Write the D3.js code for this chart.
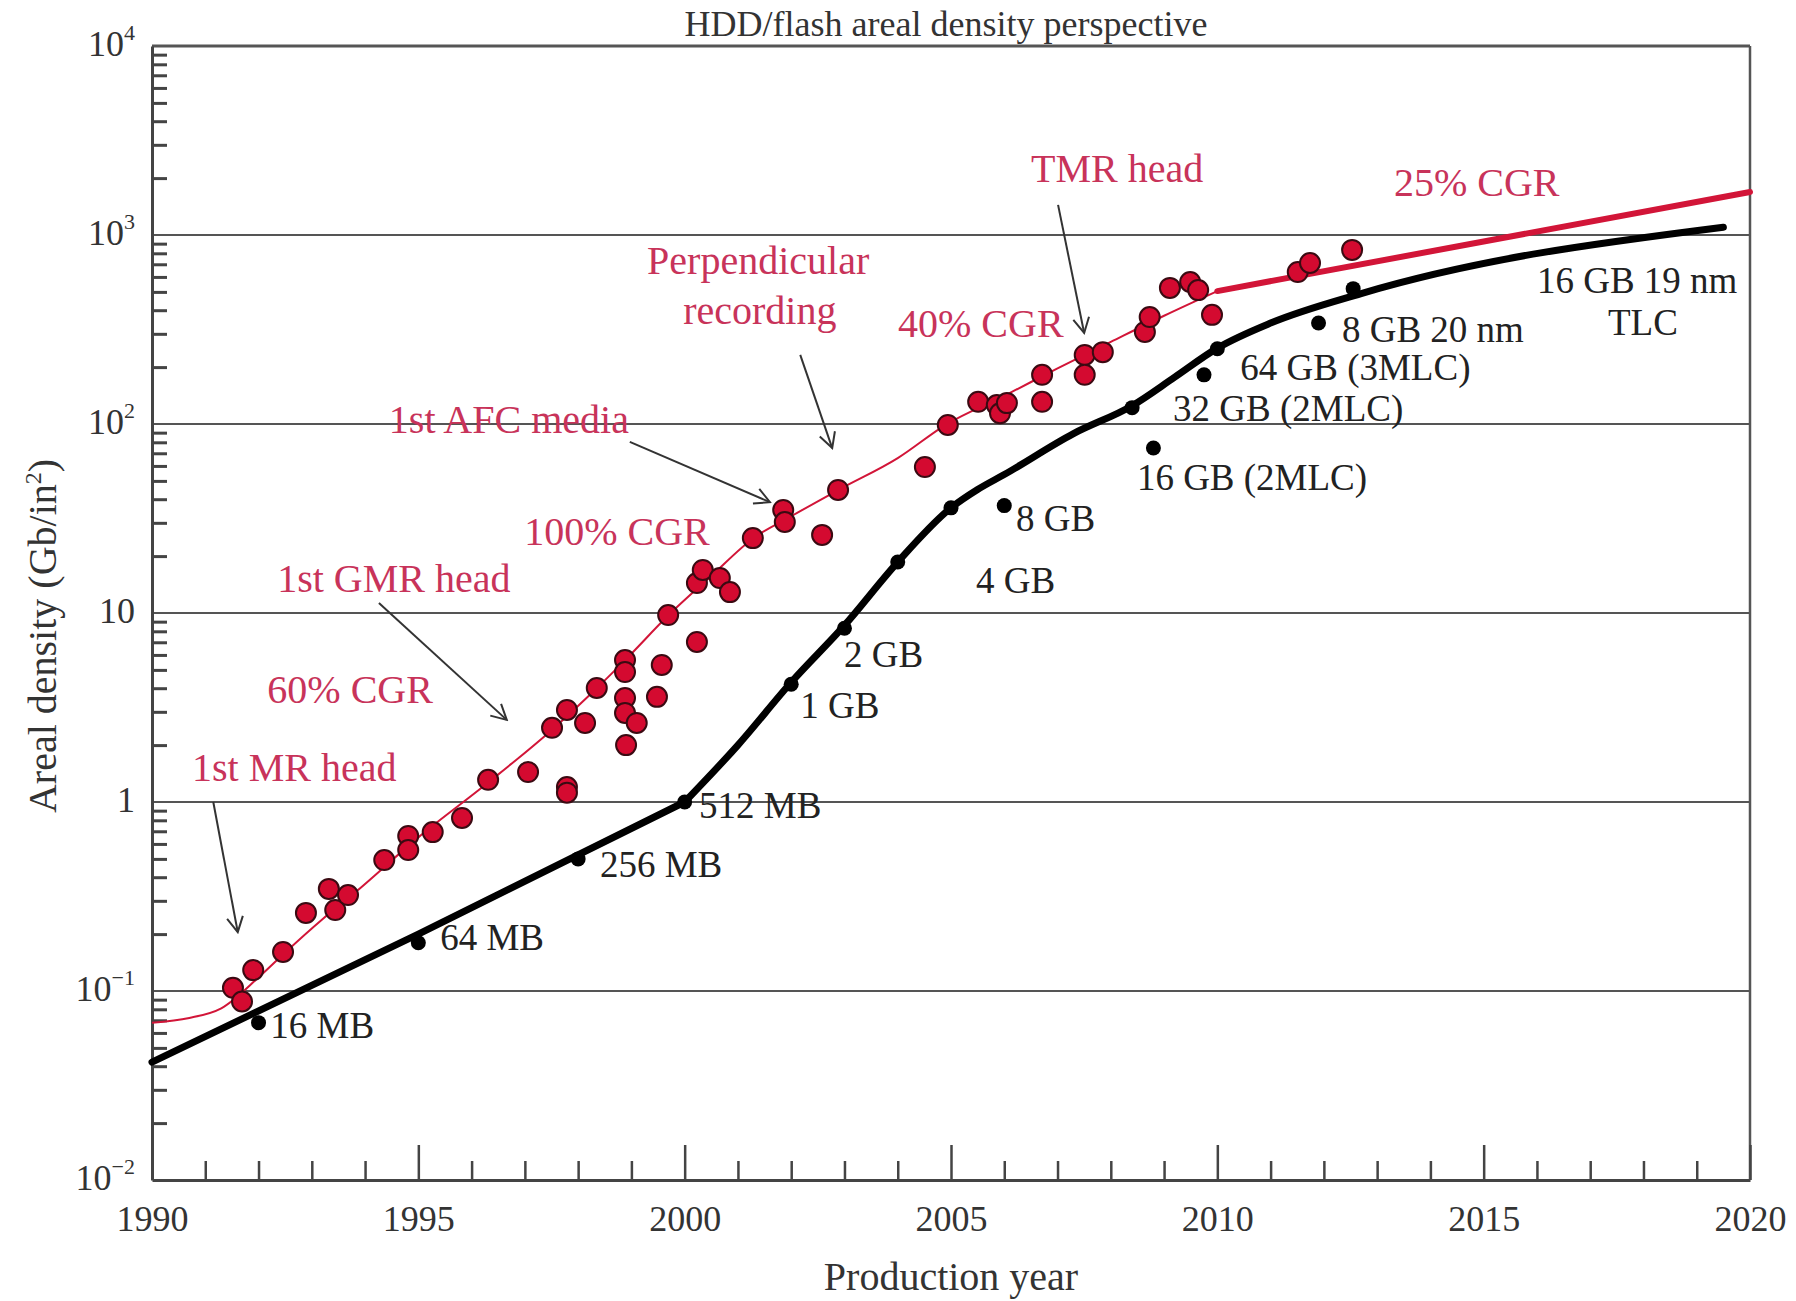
<!DOCTYPE html>
<html>
<head>
<meta charset="utf-8">
<script src="https://cdn.jsdelivr.net/npm/d3@7"></script>
<style>
  body { margin: 0; background: #fff; }
  svg { display: block; font-family: "Liberation Serif", "DejaVu Serif", serif; }
</style>
</head>
<body>
<svg width="1796" height="1301"></svg>
<script>
// year ticks and decade labels
const majorYears = [1990, 1995, 2000, 2005, 2010, 2015, 2020];
const decadeExps = [-2, -1, 0, 1, 2, 3, 4];

// HDD areal density, single products [year, Gb/in2]
const hddPoints = [
  [1991.52, 0.104], [1991.69, 0.088], [1991.90, 0.129], [1992.46, 0.161], [1992.89, 0.259],
  [1993.32, 0.347], [1993.44, 0.268], [1993.68, 0.322], [1994.36, 0.493], [1994.81, 0.661],
  [1994.81, 0.557], [1995.27, 0.693], [1995.82, 0.823], [1996.31, 1.31], [1997.06, 1.44],
  [1997.51, 2.47], [1997.79, 3.07], [1997.79, 1.20], [1997.79, 1.12], [1998.13, 2.62],
  [1998.35, 4.01], [1998.88, 5.64], [1998.88, 4.87], [1998.88, 3.55], [1998.88, 2.96],
  [1999.10, 2.62], [1998.90, 2.00], [1999.57, 5.31], [1999.48, 3.60], [1999.69, 9.75],
  [2000.23, 7.03], [2000.23, 14.4], [2000.34, 16.9], [2000.66, 15.3], [2000.85, 12.9],
  [2001.28, 24.9], [2001.85, 35.1], [2001.88, 30.3], [2002.58, 25.9], [2002.88, 44.8],
  [2004.51, 59.2], [2004.94, 98.9], [2005.51, 131], [2005.86, 126], [2005.92, 114],
  [2006.05, 129], [2006.71, 182], [2006.71, 131], [2007.51, 232], [2007.85, 240],
  [2007.51, 182], [2008.64, 307], [2008.73, 368], [2009.11, 525], [2009.49, 564],
  [2009.64, 511], [2009.90, 378], [2011.51, 637], [2011.74, 711], [2012.53, 834]
];

// HDD trend (thin) and the 25% CGR extension (thick)
const hddTrend = [
  [1990, 0.068], [1990.7, 0.072], [1991.3, 0.081], [1992, 0.118], [1992.5, 0.16],
  [1993.2, 0.24], [1993.8, 0.33], [1995, 0.65], [1996.3, 1.26], [1997.5, 2.4],
  [1998.35, 4.0], [1998.9, 5.7], [1999.7, 9.75], [2000.5, 15.7], [2001.3, 25],
  [2002, 32.5], [2002.9, 45], [2004, 66], [2004.9, 99], [2006, 141], [2007, 197],
  [2008, 272], [2009, 374], [2010, 505]
];
const hddTrend25 = [[2010, 505], [2020, 1690]];

// flash trend and products
const flashTrend = [
  [1990, 0.042], [1995, 0.2], [2000, 1.0], [2001, 2.0], [2002, 4.3], [2003, 8.6],
  [2004, 18.6], [2005, 36], [2005.5, 45], [2006, 54], [2007.3, 89], [2008.4, 125],
  [2009.2, 177], [2010, 252], [2011, 342], [2012.7, 490], [2019.5, 1100]
];
const flashPoints = [
  [1992, 0.068], [1995, 0.18], [1998, 0.5], [2000, 1.0], [2002, 4.2], [2003, 8.3],
  [2004, 18.6], [2005, 36], [2006, 37], [2008.8, 74.6], [2008.4, 122], [2009.75, 182],
  [2010, 250], [2011.9, 342], [2012.55, 520]
];

// text anchors [label, year, value]
const flashLabels = [
  ["16 MB", 1992.22, 0.0564], ["64 MB", 1995.41, 0.165], ["256 MB", 1998.41, 0.401],
  ["512 MB", 2000.27, 0.822], ["1 GB", 2002.17, 2.78], ["2 GB", 2002.99, 5.18],
  ["4 GB", 2005.47, 12.8], ["8 GB", 2006.22, 27.2], ["16 GB (2MLC)", 2008.49, 44.8],
  ["32 GB (2MLC)", 2009.17, 104], ["64 GB (3MLC)", 2010.43, 171], ["8 GB 20 nm", 2012.34, 272],
  ["16 GB 19 nm", 2016.0, 493]
];
const flashCentered = [["TLC", 2017.99, 296]];
const hddNotes = [
  ["TMR head", 2008.12, 1905], ["25% CGR", 2014.87, 1607], ["Perpendicular", 2001.38, 622],
  ["recording", 2001.41, 338], ["40% CGR", 2005.56, 288], ["1st AFC media", 1996.70, 89.5],
  ["100% CGR", 1998.73, 22.9], ["1st GMR head", 1994.54, 12.9], ["60% CGR", 1993.72, 3.34],
  ["1st MR head", 1992.67, 1.29]
];
// arrows [yearFrom, valueFrom, yearTo, valueTo]
const arrows = [
  [1991.15, 1.0, 1991.61, 0.205], [1994.26, 11.3, 1996.66, 2.72],
  [1998.97, 80.4, 2001.60, 38.6], [2002.17, 232, 2002.77, 74.6],
  [2007.01, 1443, 2007.50, 303]
];

const svg = d3.select("svg");
const red = "#d21538", redText = "#c8335a";

const x = d3.scaleLinear().domain([1990, 2020]).range([152, 1750]);
const y = d3.scaleLog().domain([1e-2, 1e4]).range([1180, 46]);

// decade gridlines
svg.append("g")
  .selectAll("line")
  .data(decadeExps.slice(1))
  .join("line")
  .attr("x1", x(1990)).attr("x2", x(2020))
  .attr("y1", d => y(Math.pow(10, d))).attr("y2", d => y(Math.pow(10, d)))
  .attr("stroke", "#555")
  .attr("stroke-width", d => d === 4 ? 3 : 2);

// right border
svg.append("line")
  .attr("x1", x(2020)).attr("x2", x(2020))
  .attr("y1", y(1e4)).attr("y2", y(1e-2))
  .attr("stroke", "#555").attr("stroke-width", 2.5);

// minor y ticks
const minorY = [];
decadeExps.slice(0, -1).forEach(e => {
  for (let k = 2; k <= 9; k++) minorY.push(k * Math.pow(10, e));
});
const yAxis = svg.append("g")
  .attr("transform", `translate(${x(1990)},0)`)
  .call(d3.axisLeft(y).tickValues(minorY).tickSize(-15).tickSizeOuter(0).tickFormat(""));
yAxis.select(".domain").attr("stroke", "#444").attr("stroke-width", 3);
yAxis.selectAll(".tick line").attr("stroke", "#444").attr("stroke-width", 3);

// x ticks
const xMinor = svg.append("g")
  .attr("transform", `translate(0,${y(1e-2)})`)
  .call(d3.axisBottom(x).tickValues(d3.range(1991, 2020).filter(d => d % 5)).tickSize(-19).tickFormat(""));
xMinor.select(".domain").remove();
xMinor.selectAll(".tick line").attr("stroke", "#444").attr("stroke-width", 2.5);

const xAxis = svg.append("g")
  .attr("transform", `translate(0,${y(1e-2)})`)
  .call(d3.axisBottom(x).tickValues(majorYears).tickSize(-35).tickSizeOuter(0).tickFormat(d3.format("d")));
xAxis.select(".domain").attr("stroke", "#444").attr("stroke-width", 3);
xAxis.selectAll(".tick line").attr("stroke", "#444").attr("stroke-width", 2.5);
xAxis.selectAll("text")
  .attr("y", 51).attr("dy", null)
  .attr("font-size", 36)
  .attr("font-family", "Liberation Serif, serif")
  .attr("fill", "#333");

// y tick labels with superscripts
const yLab = svg.append("g").selectAll("text")
  .data(decadeExps)
  .join("text")
  .attr("x", 135)
  .attr("y", d => y(Math.pow(10, d)) + 10)
  .attr("text-anchor", "end")
  .attr("font-size", 36)
  .attr("fill", "#333");
yLab.append("tspan").text(d => d === 0 ? "1" : "10");
yLab.filter(d => d < 0 || d > 1)
  .append("tspan")
  .attr("font-size", 22)
  .attr("dy", -16)
  .text(d => d < 0 ? "\u2212" + (-d) : String(d));

// axis titles
svg.append("text")
  .attr("x", 946).attr("y", 36)
  .attr("text-anchor", "middle")
  .attr("font-size", 36).attr("fill", "#333")
  .text("HDD/flash areal density perspective");

svg.append("text")
  .attr("x", 951).attr("y", 1290)
  .attr("text-anchor", "middle")
  .attr("font-size", 40).attr("fill", "#333")
  .text("Production year");

const yTitle = svg.append("text")
  .attr("transform", "translate(56,636) rotate(-90)")
  .attr("text-anchor", "middle")
  .attr("font-size", 40).attr("fill", "#333");
yTitle.append("tspan").text("Areal density (Gb/in");
yTitle.append("tspan").attr("font-size", 24).attr("dy", -15).text("2");
yTitle.append("tspan").attr("dy", 15).text(")");

// lines
const line = d3.line()
  .x(d => x(d[0]))
  .y(d => y(d[1]))
  .curve(d3.curveMonotoneX);

const straight = d3.line()
  .x(d => x(d[0]))
  .y(d => y(d[1]));

svg.append("path")
  .datum(hddTrend)
  .attr("d", line)
  .attr("fill", "none")
  .attr("stroke", red)
  .attr("stroke-width", 2);

svg.append("path")
  .datum(hddTrend25)
  .attr("d", straight)
  .attr("fill", "none")
  .attr("stroke", red)
  .attr("stroke-width", 6)
  .attr("stroke-linecap", "round");

// flash: straight up to 2000, curved after
[[straight, flashTrend.filter(d => d[0] <= 2000)],
 [line, flashTrend.filter(d => d[0] >= 2000)]].forEach(([gen, pts]) => {
  svg.append("path")
    .datum(pts)
    .attr("d", gen)
    .attr("fill", "none")
    .attr("stroke", "#000")
    .attr("stroke-width", 7)
    .attr("stroke-linejoin", "round")
    .attr("stroke-linecap", "round");
});

svg.append("g")
  .selectAll("circle")
  .data(flashPoints)
  .join("circle")
  .attr("cx", d => x(d[0]))
  .attr("cy", d => y(d[1]))
  .attr("r", 7.5)
  .attr("fill", "#000");

svg.append("g")
  .selectAll("circle")
  .data(hddPoints)
  .join("circle")
  .attr("cx", d => x(d[0]))
  .attr("cy", d => y(d[1]))
  .attr("r", 10)
  .attr("fill", "#d40a30")
  .attr("stroke", "#3a0a12")
  .attr("stroke-width", 2);

// arrows
svg.append("defs").append("marker")
  .attr("id", "head")
  .attr("viewBox", "0 0 20 20")
  .attr("refX", 18).attr("refY", 10)
  .attr("markerWidth", 20).attr("markerHeight", 20)
  .attr("markerUnits", "userSpaceOnUse")
  .attr("orient", "auto")
  .append("path")
  .attr("d", "M3,2 L18,10 L3,18")
  .attr("fill", "none")
  .attr("stroke", "#333")
  .attr("stroke-width", 2);

svg.append("g")
  .selectAll("line")
  .data(arrows)
  .join("line")
  .attr("x1", d => x(d[0])).attr("y1", d => y(d[1]))
  .attr("x2", d => x(d[2])).attr("y2", d => y(d[3]))
  .attr("stroke", "#333")
  .attr("stroke-width", 2)
  .attr("marker-end", "url(#head)");

// annotations
svg.append("g")
  .selectAll("text")
  .data(hddNotes)
  .join("text")
  .attr("x", d => x(d[1]))
  .attr("y", d => y(d[2]))
  .attr("text-anchor", "middle")
  .attr("font-size", 40)
  .attr("fill", redText)
  .text(d => d[0]);

svg.append("g")
  .selectAll("text")
  .data(flashLabels)
  .join("text")
  .attr("x", d => x(d[1]))
  .attr("y", d => y(d[2]))
  .attr("font-size", 37)
  .attr("fill", "#222")
  .text(d => d[0]);

svg.append("g")
  .selectAll("text")
  .data(flashCentered)
  .join("text")
  .attr("x", d => x(d[1]))
  .attr("y", d => y(d[2]))
  .attr("text-anchor", "middle")
  .attr("font-size", 37)
  .attr("fill", "#222")
  .text(d => d[0]);
</script>
</body>
</html>
